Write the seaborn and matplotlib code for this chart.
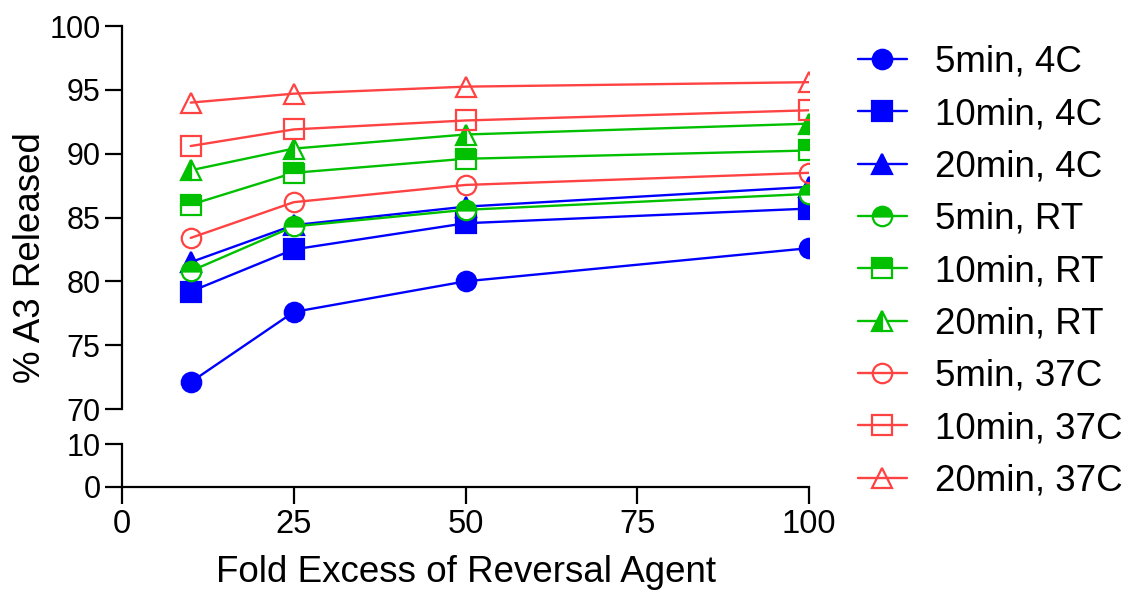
import matplotlib
matplotlib.use("Agg")
import matplotlib.pyplot as plt
import seaborn as sns
import numpy as np
import pandas as pd

sns.set_style("ticks")
plt.rcParams['font.family'] = ['Liberation Sans', 'DejaVu Sans']
plt.rcParams['text.color'] = 'black'

fold_excess = [10, 25, 50, 100]
series_labels = ["5min, 4C", "10min, 4C", "20min, 4C",
                 "5min, RT", "10min, RT", "20min, RT",
                 "5min, 37C", "10min, 37C", "20min, 37C"]
v_5min_4C = [72.1, 77.6, 80.0, 82.6]
v_10min_4C = [79.2, 82.5, 84.55, 85.7]
v_20min_4C = [81.5, 84.4, 85.85, 87.4]
v_5min_RT = [80.8, 84.3, 85.6, 86.85]
v_10min_RT = [86.0, 88.5, 89.6, 90.25]
v_20min_RT = [88.7, 90.4, 91.5, 92.35]
v_5min_37C = [83.4, 86.2, 87.55, 88.5]
v_10min_37C = [90.6, 91.9, 92.6, 93.4]
v_20min_37C = [94.0, 94.7, 95.25, 95.6]
values = [v_5min_4C, v_10min_4C, v_20min_4C, v_5min_RT, v_10min_RT, v_20min_RT,
          v_5min_37C, v_10min_37C, v_20min_37C]
upper_ticks = [70, 75, 80, 85, 90, 95, 100]
lower_ticks = [0, 10]
x_ticks = [0, 25, 50, 75, 100]

BLUE = "#0000FF"
GREEN = "#00C000"
RED = "#FF4242"
colors = [BLUE] * 3 + [GREEN] * 3 + [RED] * 3
markers = ["o", "s", "^"] * 3
styles = [dict(fillstyle="full", mfc=BLUE)] * 3 + \
         [dict(fillstyle="top", mfc=GREEN, markerfacecoloralt="white"),
          dict(fillstyle="top", mfc=GREEN, markerfacecoloralt="white"),
          dict(fillstyle="left", mfc=GREEN, markerfacecoloralt="white")] + \
         [dict(fillstyle="full", mfc="none")] * 3

W, H = 1130, 593
fig = plt.figure(figsize=(W / 100, H / 100), dpi=100)
left = 122 / W
width = (809 - 122) / W
ax_up = fig.add_axes([left, 1 - 409 / H, width, (409 - 26) / H])
ax_lo = fig.add_axes([left, 1 - 487 / H, width, (487 - 444) / H])

FS_LAB = 26.5
FS_YT = 22
FS_XT = 23.5
for i, (lab, vals) in enumerate(zip(series_labels, values)):
    df = pd.DataFrame({"x": fold_excess, "y": vals})
    sns.lineplot(data=df, x="x", y="y", ax=ax_up, color=colors[i], marker=markers[i],
                 markersize=14, markeredgecolor=colors[i], markeredgewidth=1.6,
                 linewidth=1.7, label=lab, legend=False, **styles[i])

for ax in (ax_up, ax_lo):
    ax.set_xlim(0, 100)
    for s in ("top", "right"):
        ax.spines[s].set_visible(False)
    for s in ("left", "bottom"):
        ax.spines[s].set_linewidth(1.6)
        ax.spines[s].set_color("black")
    ax.tick_params(axis="both", which="major", direction="out", length=12, width=1.6,
                   colors="black")
    ax.tick_params(axis="y", labelsize=FS_YT)
    ax.tick_params(axis="x", labelsize=FS_XT)
    ax.set_ylabel("")
    ax.set_xlabel("")

ax_up.set_ylim(70, 100)
ax_up.set_yticks(upper_ticks)
ax_up.set_yticks([70], minor=True)
ax_up.tick_params(axis="y", which="minor", direction="in", length=12, width=1.6)
ax_up.spines["bottom"].set_visible(False)
ax_up.set_xticks([])

ax_lo.set_ylim(0, 10)
ax_lo.set_yticks(lower_ticks)
ax_lo.set_yticks([10], minor=True)
ax_lo.tick_params(axis="y", which="minor", direction="in", length=12, width=1.6)
ax_lo.set_xticks(x_ticks)
ax_lo.set_xlabel("Fold Excess of Reversal Agent", fontsize=FS_LAB, labelpad=11,
                 color="black")

fig.text(31 / W, 1 - 258 / H, "% A3 Released", rotation=90, ha="center", va="center",
         fontsize=FS_LAB, color="black")

handles, labels = ax_up.get_legend_handles_labels()
leg = fig.legend(handles, labels, loc="upper left", bbox_to_anchor=(858 / W, 1 - 45 / H),
                 frameon=False, fontsize=FS_LAB, handlelength=1.33, handletextpad=0.76,
                 labelspacing=0.47, borderpad=0, borderaxespad=0)
for t in leg.get_texts():
    t.set_color("black")

fig.savefig("out.png", dpi=100)
